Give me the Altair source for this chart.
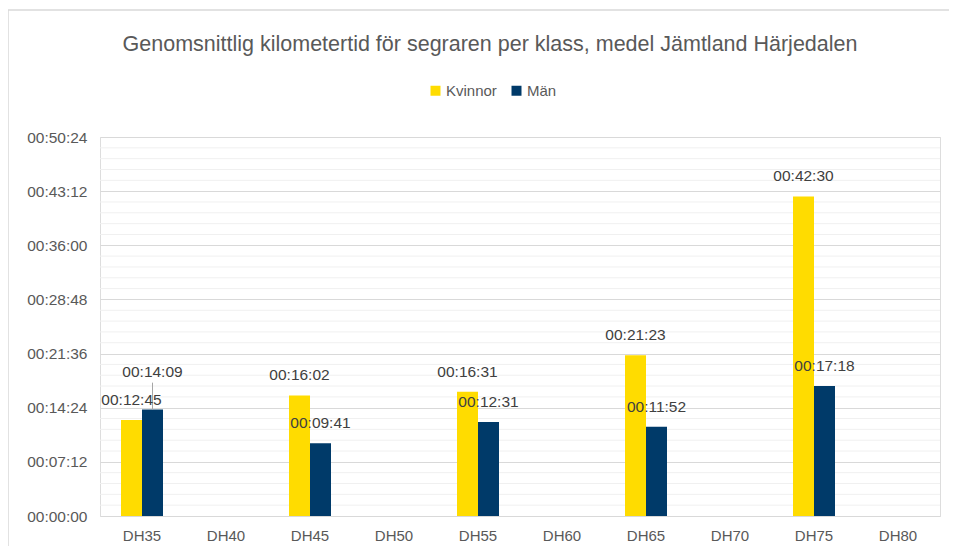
import altair as alt
import pandas as pd
import numpy as np

classes = ["DH35", "DH40", "DH45", "DH50", "DH55", "DH60", "DH65", "DH70", "DH75", "DH80"]
kvinnor = ["00:12:45", None, "00:16:02", None, "00:16:31", None, "00:21:23", None, "00:42:30", None]
man = ["00:14:09", None, "00:09:41", None, "00:12:31", None, "00:11:52", None, "00:17:18", None]
series = ["Kvinnor", "Män"]
colors = ["#FFDC00", "#003A69"]
major_step = 432  # 00:07:12
y_max = 3024      # 00:50:24


def to_sec(s):
    h, m, sec = (int(p) for p in s.split(":"))
    return h * 3600 + m * 60 + sec


rows = []
for c, k, m in zip(classes, kvinnor, man):
    for name, v in (("Kvinnor", k), ("Män", m)):
        if v is not None:
            rows.append({"klass": c, "kon": name, "sek": to_sec(v), "lbl": v})
df = pd.DataFrame(rows)

major_vals = list(range(0, y_max + 1, major_step))
minor_vals = [float(v) for v in np.arange(0, y_max + 0.1, major_step / 5) if abs(v / major_step - round(v / major_step)) > 1e-6]
minor_df = pd.DataFrame({"v": minor_vals})

FONT = "Liberation Sans"
TXT = "#595959"

xenc = alt.X("klass:N", sort=classes, scale=alt.Scale(domain=classes, paddingInner=0.5, paddingOuter=0.25),
             axis=alt.Axis(title=None, labelAngle=0, domain=False, ticks=False, labelPadding=12,
                           labelFontSize=15, labelColor=TXT, labelFont=FONT))
yscale = alt.Scale(domain=[0, y_max], nice=False)
color = alt.Color("kon:N", scale=alt.Scale(domain=series, range=colors),
                  legend=alt.Legend(title=None, orient="none", legendX=328, legendY=-54, direction="horizontal",
                                    symbolType="square", symbolSize=100, symbolStrokeWidth=0,
                                    labelFontSize=15, labelColor=TXT, labelFont=FONT, labelOffset=3,
                                    columnPadding=12))

one = pd.DataFrame({"a": [0]})
border_top = alt.Chart(one).mark_rule(color="#d9d9d9", strokeWidth=1.5).encode(
    x=alt.value(-92), x2=alt.value(860), y=alt.value(-127))
border_left = alt.Chart(one).mark_rule(color="#d9d9d9", strokeWidth=1.5).encode(
    x=alt.value(-92), y=alt.value(-127), y2=alt.value(420))

minor = alt.Chart(minor_df).mark_rule(color="#f0f0f0", strokeWidth=1).encode(
    y=alt.Y("v:Q", scale=yscale), x=alt.value(0), x2=alt.value(840))

bars = alt.Chart(df).mark_bar().encode(
    x=xenc,
    xOffset=alt.XOffset("kon:N", sort=series, scale=alt.Scale(domain=series, paddingInner=0, paddingOuter=0)),
    y=alt.Y("sek:Q", scale=yscale,
            axis=alt.Axis(title=None, values=major_vals, grid=True, gridColor="#d9d9d9", gridWidth=1.2,
                          domain=False, ticks=False, labelPadding=13, labelFontSize=15.5, labelColor=TXT,
                          labelFont=FONT,
                          labelExpr="utcFormat(datum.value * 1000, '%H:%M:%S')")),
    color=color,
)

normal = alt.datum.klass + alt.datum.kon != "DH35Män"

labels = alt.Chart(df).transform_filter(normal).mark_text(
    baseline="middle", dy=-20, fontSize=15.5, color="#404040", font=FONT).encode(
    x=alt.X("klass:N", sort=classes), xOffset=alt.XOffset("kon:N", sort=series),
    y=alt.Y("sek:Q", scale=yscale), text="lbl:N")

special = alt.Chart(df).transform_filter(~normal)
leader = special.transform_calculate(top="datum.sek + 215").mark_rule(color="#a6a6a6", strokeWidth=1).encode(
    x=alt.X("klass:N", sort=classes), xOffset=alt.XOffset("kon:N", sort=series),
    y=alt.Y("sek:Q", scale=yscale), y2="top:Q")
special_lbl = special.mark_text(baseline="middle", dy=-38, fontSize=15.5, color="#404040", font=FONT).encode(
    x=alt.X("klass:N", sort=classes), xOffset=alt.XOffset("kon:N", sort=series),
    y=alt.Y("sek:Q", scale=yscale), text="lbl:N")

chart = alt.layer(border_top, border_left, minor, bars, leader, labels, special_lbl).properties(
    width=840, height=379,
    title=alt.TitleParams("Genomsnittlig kilometertid för segraren per klass, medel Jämtland Härjedalen",
                          anchor="middle", dx=-30, offset=-46, fontSize=21.5, fontWeight="normal",
                          color=TXT, font=FONT),
    autosize=alt.AutoSizeParams(type="none"),
    padding={"left": 92, "top": 129, "right": 9, "bottom": 30},
).configure_view(stroke=None).configure(background="white")

chart.save("out.html", embed_options={"renderer": "svg", "actions": False})
